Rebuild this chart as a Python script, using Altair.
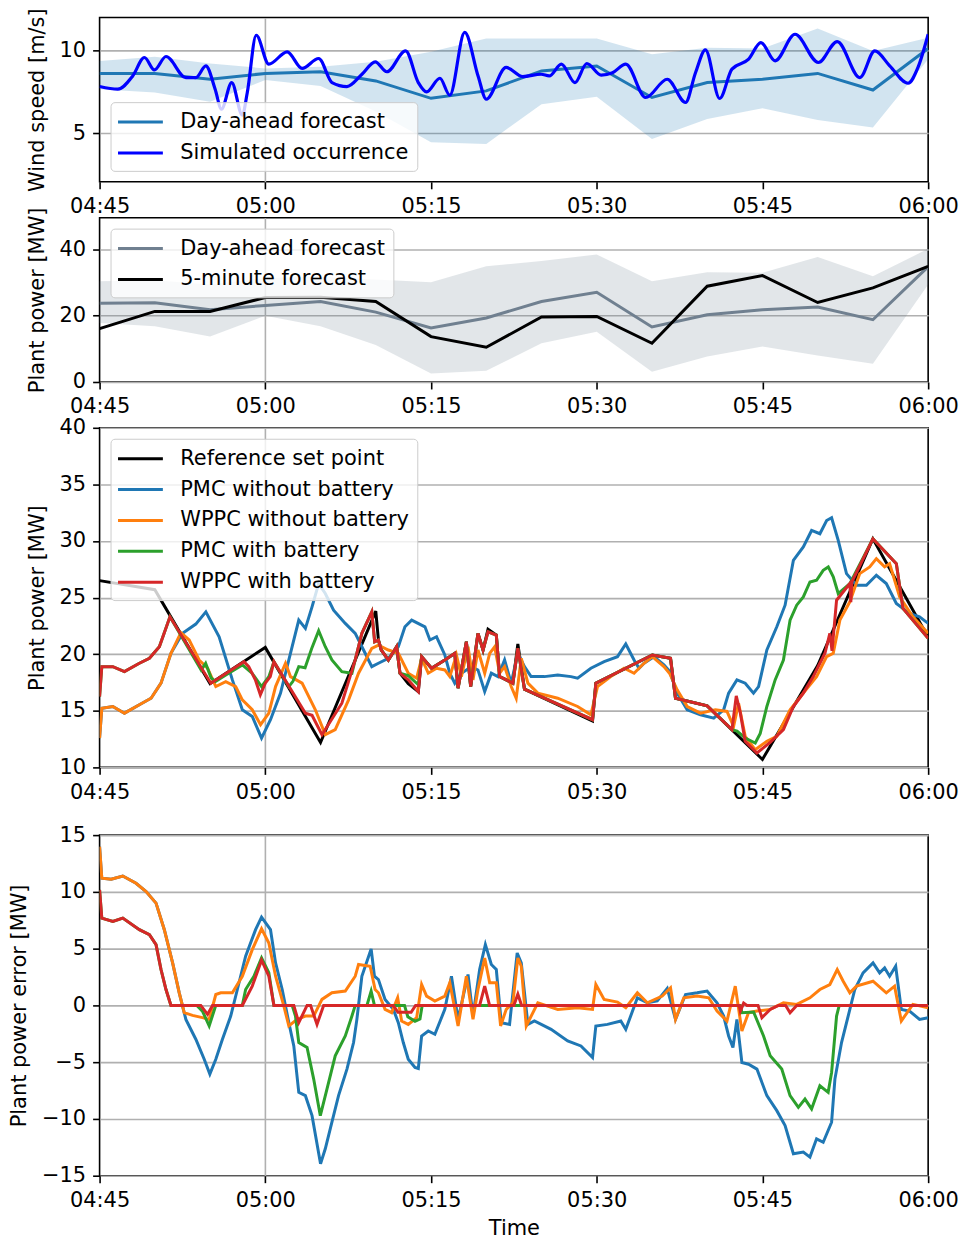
import altair as alt
import pandas as pd

FONT = "DejaVu Sans"

# ---------------- axis ticks ----------------
x_tick_values = [0, 15, 30, 45, 60, 75]          # minutes after 04:45
x_tick_labels = ["04:45", "05:00", "05:15", "05:30", "05:45", "06:00"]

# ---------------- panel 1: wind speed ----------------
t5 = [0, 5, 10, 15, 20, 25, 30, 35, 40, 45, 50, 55, 60, 65, 70, 75]
wind_da = [8.6, 8.6, 8.25, 8.6, 8.7, 8.15, 7.1, 7.55, 8.75, 9.05, 7.15, 8.05, 8.25, 8.6, 7.6, 10.1]
wind_da_low = [7.65, 7.45, 6.9, 8.2, 7.85, 6.3, 4.45, 4.35, 6.75, 7.2, 4.65, 5.85, 6.5, 5.8, 5.35, 9.45]
wind_da_high = [9.35, 9.6, 9.2, 8.9, 9.0, 9.3, 9.9, 10.7, 10.7, 10.7, 9.75, 10.15, 10.1, 11.3, 9.95, 10.75]
wind_sim_t = [0.0, 1.65, 3.0, 4.06, 4.96, 6.01, 7.81, 8.72, 9.62, 10.46, 11.03, 11.96, 12.92, 13.37,
              14.18, 15.32, 16.98, 18.33, 19.83, 21.04, 22.39, 23.75, 24.95, 26.0, 27.7, 28.85, 29.6,
              30.8, 31.7, 33.05, 34.26, 35.0, 36.8, 38.3, 39.97, 40.7, 41.8, 43.03, 44.1, 45.4, 46.43,
              47.63, 49.43, 51.38, 53.04, 53.94, 54.84, 56.13, 57.24, 58.75, 59.86, 61.15, 62.95,
              65.06, 66.77, 68.82, 70.17, 71.52, 73.18, 74.08, 75.0]
wind_sim_v = [7.81, 7.65, 8.45, 9.56, 8.81, 9.62, 8.35, 8.35, 9.06, 7.65, 6.45, 8.05, 6.08, 7.45,
              10.9, 9.16, 9.9, 8.9, 9.5, 8.05, 7.81, 8.55, 9.3, 8.7, 9.96, 8.05, 7.49,
              8.31, 7.29, 11.07, 8.45, 7.05, 8.96, 8.41, 8.55, 8.45, 9.16, 8.05, 9.2, 8.5, 8.64,
              9.16, 7.15, 8.25, 6.85, 8.64, 10.02, 7.09, 8.86, 9.46, 10.46, 9.36, 10.96,
              9.26, 10.52, 8.35, 9.96, 9.06, 8.01, 8.96, 10.96]

# ---------------- panel 2: plant power forecasts ----------------
pow_da = [23.8, 23.9, 21.8, 23.1, 24.3, 21.1, 16.3, 19.3, 24.3, 27.1, 16.6, 20.3, 21.8, 22.6, 18.8, 34.8]
pow_da_low = [17.8, 16.8, 13.7, 20.0, 16.8, 11.2, 2.6, 3.4, 11.7, 15.2, 3.1, 7.7, 10.7, 8.0, 5.5, 29.4]
pow_da_high = [30.4, 30.7, 29.4, 31.4, 31.8, 30.9, 30.1, 34.9, 36.5, 38.5, 30.4, 33.1, 33.0, 37.7, 31.9, 40.2]
pow_5min = [16.1, 21.3, 21.3, 25.5, 25.6, 24.3, 13.7, 10.5, 19.6, 19.8, 11.7, 28.9, 32.1, 24.0, 28.4, 34.9]

# ---------------- panel 3: plant power ----------------
ref_t = [0, 5, 10, 15, 20, 25, 25.24, 25.5, 26.14, 26.89, 27.19, 27.94, 28.85, 29.15, 30.05, 31.25, 32.15,
         32.45, 33.2, 33.59, 34.25, 34.71, 35.16, 35.91, 36.21, 37.41, 37.86, 38.46, 44.62, 44.92, 50.03,
         51.68, 52.13, 55, 60, 65, 70, 75]
ref_v = [26.5, 25.7, 17.4, 20.6, 12.2, 23.8, 21.25, 20.37, 19.49, 20.66, 18.32, 17.4, 16.7, 19.78, 18.76,
         19.49, 20.08, 17.0, 21.1, 17.14, 21.84, 20.37, 22.2, 21.69, 18.02, 17.44, 20.9, 16.91, 14.1, 17.44,
         19.93, 19.64, 16.11, 15.44, 10.7, 19.0, 30.2, 21.5]

pmc_nb_t = [0, 0.2, 1.2, 2.25, 3.6, 4.66, 5.56, 6.46, 7.51, 8.71, 9.62, 10.82, 12.02, 12.92, 13.82, 14.66,
            15.47, 16.38, 17.13, 18.03, 18.63, 19.23, 19.83, 20.43, 21.18, 22.24, 23.14, 24.04, 24.64,
            25.24, 26.14, 27.04, 27.64, 28.25, 29.45, 29.9, 30.5, 31.25, 31.7, 32.15, 32.75, 33.65,
            34.25, 34.86, 35.46, 36.06, 36.66, 37.26, 37.86, 38.46, 39.06, 40.26, 41.47, 42.67, 43.27,
            44.47, 45.67, 46.88, 47.63, 48.38, 48.83, 49.28, 50.18, 51.08, 51.6, 52.28, 53.19, 54.39,
            55.59, 56.49, 56.94, 57.69, 58.44, 59.19, 59.65, 60.4, 61.3, 62.05, 62.8, 63.7, 64.45,
            65.2, 65.81, 66.26, 66.86, 67.61, 68.51, 69.41, 70.31, 71.21, 72.12, 73.32, 74.22, 75]
pmc_nb_v = [12.59, 15.23, 15.38, 14.79, 15.53, 16.11, 17.44, 20.08, 21.84, 22.66, 23.74, 21.54, 17.73, 15.09,
            14.5, 12.59, 14.21, 16.56, 19.49, 23.01, 22.28, 24.18, 26.24, 25.36, 23.89, 22.72, 21.84,
            20.08, 18.9, 19.2, 19.64, 20.66, 22.42, 23.01, 22.42, 21.25, 21.54, 19.93, 18.32, 17.44,
            18.32, 18.9, 18.61, 16.7, 18.32, 18.02, 19.49, 17.44, 20.08, 18.9, 18.02, 18.02, 18.17,
            18.02, 17.88, 18.76, 19.34, 19.78, 20.9, 19.49, 18.76, 19.2, 19.78, 19.05, 18.5, 16.56,
            15.09, 14.65, 14.35, 15.09, 16.56, 17.73, 17.44, 16.56, 17.14, 20.37, 22.42, 24.33, 28.29,
            29.47, 30.93, 30.64, 31.81, 32.05, 30.05, 27.12, 26.09, 26.09, 26.97, 26.24, 24.48, 23.6,
            23.3, 22.72]

wppc_nb_t = [0, 0.2, 1.2, 2.25, 3.6, 4.66, 5.56, 6.46, 7.36, 8.11, 9.01, 9.77, 10.52, 11.42, 12.32, 12.92,
             13.82, 14.57, 15.32, 15.93, 16.83, 17.28, 18.33, 19.53, 20.43, 21.33, 22.54, 23.44, 24.64,
             25.24, 26.14, 27.04, 27.94, 28.7, 29.15, 29.75, 30.5, 31.25, 31.7, 32.3, 32.75, 33.35, 33.8,
             34.25, 34.86, 35.31, 35.76, 36.21, 36.66, 37.26, 37.71, 38.17, 38.77, 39.67, 41.47, 43.27,
             44.47, 45.07, 46.27, 47.48, 48.38, 49.28, 50.03, 51.08, 51.6, 52.28, 53.19, 54.39, 55.74,
             56.79, 57.39, 57.84, 58.44, 59.34, 60.4, 61.3, 62.5, 63.7, 64.9, 65.81, 66.41, 67.01, 67.91,
             68.81, 69.71, 70.31, 71.06, 71.51, 72.42, 73.62, 75]
wppc_nb_v = [12.59, 15.23, 15.38, 14.79, 15.53, 16.11, 17.44, 20.08, 21.9, 21.25, 19.49, 18.76, 17.14, 17.58,
             17.14, 15.97, 15.09, 13.77, 14.79, 17.14, 19.2, 18.02, 17.44, 15.09, 12.89, 13.33, 15.97,
             18.32, 20.52, 20.8, 20.37, 20.08, 18.32, 17.88, 19.64, 18.32, 18.76, 18.61, 18.02, 19.93,
             18.02, 20.66, 17.73, 20.37, 18.32, 20.08, 20.66, 18.32, 18.9, 17.14, 16.11, 19.64, 17.44,
             16.56, 16.11, 15.38, 14.65, 17.14, 18.02, 18.76, 18.32, 19.2, 19.78, 18.9, 18.3, 16.85,
             15.38, 14.79, 15.09, 14.94, 13.62, 15.67, 12.74, 11.57, 12.3, 12.74, 15.09, 16.56, 18.02,
             19.78, 20.08, 23.01, 24.63, 27.12, 27.71, 28.44, 27.71, 28.0, 25.06, 23.3, 21.84]

pmc_b_t = [0, 0.2, 1.2, 2.25, 3.6, 4.51, 5.41, 6.37, 9.2, 9.6, 10.1, 10.5, 11.5, 12.92, 13.82, 14.66, 15.32,
           15.78, 17.13, 17.5, 18.03, 18.6, 19.2, 19.83, 20.43, 21.03, 21.93, 22.84, 23.14, 23.74, 24.64,
           24.9, 25.24, 25.5, 26.14, 26.89, 27.19, 27.94, 28.85, 29.15, 30.05, 31.25, 32.15, 32.45, 33.2,
           33.59, 34.25, 34.71, 35.16, 35.91, 36.21, 37.41, 37.86, 38.46, 44.62, 44.92, 50.03, 51.68,
           52.13, 55.0, 57.24, 57.7, 58.44, 59.35, 59.8, 60.4, 61.15, 61.9, 62.5, 63.1, 63.7, 64.3, 64.9,
           65.5, 65.96, 66.41, 66.86, 67.91, 70.0, 72.12, 72.72, 75]
pmc_b_v = [16.26, 18.9, 18.9, 18.46, 19.2, 19.64, 20.66, 23.3, 18.6, 19.2, 17.9, 17.6, 18.2, 19.05, 18.3, 17.14,
           18.02, 19.34, 17.14, 17.6, 18.9, 18.8, 20.5, 22.07, 20.66, 19.49, 18.46, 18.32, 19.5, 21.84, 23.74,
           21.1, 21.25, 20.37, 19.49, 20.66, 18.32, 18.1, 17.3, 19.78, 18.76, 19.49, 20.08, 17.0, 21.1,
           17.14, 21.84, 20.37, 21.98, 21.69, 18.02, 17.44, 20.52, 16.91, 14.21, 17.44, 19.93, 19.64,
           16.11, 15.44, 13.33, 13.2, 12.6, 12.15, 13.0, 15.38, 17.73, 19.49, 23.0, 24.33, 25.06, 26.38,
           26.53, 27.41, 27.71, 26.83, 25.36, 26.24, 30.2, 28.0, 24.04, 21.4]

wppc_b_t = [0, 0.2, 1.2, 2.25, 3.6, 4.51, 5.41, 6.37, 10.07, 13.07, 13.5, 14.1, 14.55, 15.0, 15.45, 15.78,
            18.63, 19.23, 20.13, 21.93, 23.14, 23.74, 24.64, 24.9, 25.24, 25.5, 26.14, 26.89, 27.19, 27.94,
            28.85, 29.15, 30.05, 31.25, 32.15, 32.45, 33.2, 33.59, 34.25, 34.71, 35.16, 35.91, 36.21,
            37.41, 37.86, 38.46, 44.62, 44.92, 50.03, 51.68, 52.13, 55.0, 57.24, 57.63, 58.0, 58.44, 59.5,
            60.7, 61.9, 62.8, 63.7, 64.6, 65.2, 65.66, 66.1, 66.3, 66.71, 67.91, 68.0, 68.1, 70.0, 72.12,
            72.72, 75]
wppc_b_v = [16.26, 18.9, 18.9, 18.46, 19.2, 19.64, 20.66, 23.3, 17.44, 19.34, 18.9, 17.73, 16.41, 17.44, 18.02,
            19.34, 14.79, 14.6, 12.89, 15.67, 19.49, 21.84, 23.74, 21.1, 21.25, 20.37, 19.49, 20.66, 18.32,
            17.73, 16.7, 19.78, 18.76, 19.49, 20.08, 17.0, 21.1, 17.14, 21.84, 20.37, 21.98, 21.69, 18.02,
            17.44, 20.52, 16.91, 14.21, 17.44, 19.93, 19.64, 16.11, 15.44, 13.33, 16.32, 14.79, 12.3, 11.27,
            12.21, 13.33, 15.38, 16.56, 18.02, 19.2, 20.08, 21.84, 20.3, 24.77, 26.24, 24.6, 26.4, 30.2, 28.0,
            24.04, 21.4]

# ---------------- panel 4: plant power error ----------------
err_pmc_nb_t = [0, 0.2, 1.05, 2.1, 3.3, 4.21, 5.11, 5.86, 6.61, 7.21, 7.81, 8.71, 9.47, 9.98, 10.52, 11.12,
                11.87, 12.47, 13.22, 14.12, 14.66, 15.47, 15.93, 16.53, 17.13, 17.58, 18.03, 18.63, 19.23,
                20.0, 20.43, 21.03, 21.63, 22.39, 22.99, 23.29, 23.74, 24.58, 24.88, 25.24, 25.84, 26.59,
                27.04, 27.49, 27.94, 28.55, 28.85, 29.15, 29.75, 30.35, 31.25, 31.85, 32.45, 33.35, 33.8,
                34.4, 34.92, 35.46, 35.91, 36.36, 37.11, 37.8, 38.17, 38.77, 39.36, 40.87, 42.37, 43.57,
                44.62, 44.92, 45.97, 47.18, 47.63, 48.68, 49.58, 50.48, 51.38, 52.13, 53.04, 54.09, 54.99,
                55.89, 56.49, 56.94, 57.33, 57.69, 58.14, 58.74, 59.5, 60.4, 61.3, 62.05, 62.8, 63.7, 64.3,
                64.9, 65.5, 66.26, 66.56, 67.16, 67.76, 68.36, 69.11, 70.01, 70.61, 71.06, 71.51, 72.06,
                72.57, 73.32, 74.22, 75]
err_pmc_nb_v = [13.98, 11.2, 11.11, 11.4, 10.76, 10.03, 9.01, 6.67, 3.74, 1.11, -1.23, -2.98, -4.74, -6.05,
                -4.74, -2.98, -0.94, 1.4, 4.33, 6.67, 7.78, 6.67, 3.74, 1.4, -1.52, -3.57, -7.66, -7.95,
                -9.71, -13.95, -12.63, -10.29, -7.95, -5.61, -3.27, -1.23, 2.57, 4.97, 2.57, 2.28, 0.53,
                -0.35, -1.52, -3.27, -4.74, -5.47, -5.56, -2.69, -2.25, -2.54, -0.35, 2.57, -1.23, 2.72,
                -0.94, 3.16, 5.35, 3.6, 3.16, -1.52, -1.67, 4.62, 3.74, -1.67, -1.37, -2.11, -3.13, -3.57,
                -4.59, -1.81, -1.67, -1.37, -2.11, 0.67, 0.23, 0.4, 1.5, -1.23, 0.96, 1.11, 1.26, 0.23,
                -0.94, -2.69, -3.71, -1.23, -5.03, -5.18, -5.61, -7.95, -9.27, -10.58, -13.07, -12.92,
                -13.36, -11.75, -12.05, -10.29, -6.49, -3.27, -0.94, 1.4, 2.87, 3.74, 2.87, 3.3, 2.57, 3.45,
                -0.35, -0.5, -1.23, -1.08]

err_wppc_nb_t = [0, 0.2, 1.05, 2.1, 3.3, 4.21, 5.11, 5.86, 6.61, 7.21, 7.66, 8.41, 9.31, 9.92, 10.52, 10.97,
                 12.02, 12.92, 13.82, 14.66, 15.32, 15.93, 16.68, 17.13, 17.88, 18.63, 19.38, 20.13, 21.03,
                 22.24, 23.14, 23.44, 24.49, 24.94, 25.24, 25.84, 26.44, 26.98, 27.34, 27.94, 28.7, 29.15,
                 29.6, 30.35, 31.25, 31.7, 32.45, 33.2, 33.8, 34.25, 34.86, 35.31, 35.91, 36.3, 36.81, 37.41,
                 37.86, 38.17, 38.62, 39.67, 41.47, 43.27, 44.62, 44.92, 45.67, 46.88, 47.63, 48.68, 49.58,
                 50.93, 51.68, 52.13, 52.88, 54.09, 55.14, 55.89, 56.79, 57.54, 58.14, 58.74, 59.5, 60.7,
                 61.9, 63.1, 64.3, 65.2, 66.1, 66.77, 67.31, 67.91, 68.51, 70.01, 71.21, 71.96, 72.57, 73.62,
                 75]
err_wppc_nb_v = [13.98, 11.2, 11.11, 11.4, 10.76, 10.03, 9.01, 6.67, 3.74, 1.11, -0.64, -0.88, -1.08, -1.23,
                 0.96, 1.11, 1.11, 2.57, 4.91, 6.75, 5.5, 2.57, -0.06, -1.81, -1.23, -0.94, -0.94, 0.53, 1.11,
                 1.26, 2.57, 3.6, 3.45, 1.4, 1.11, -0.35, -0.64, 0.67, -1.37, -1.67, -1.08, 1.84, 0.82, 0.38,
                 0.82, 1.99, -1.81, 2.57, -1.23, 1.4, 4.18, 1.99, 1.99, -1.81, -0.35, 0.23, 4.18, 3.45, -1.81,
                 0.23, -0.35, -0.2, -0.35, 1.84, 0.53, 0.29, -0.2, 1.11, 0.23, 0.82, 1.55, -1.23, 0.67, 0.82,
                 0.67, -0.5, -1.37, 1.7, -2.25, -0.64, -0.5, -0.35, 0.23, 0.09, 0.67, 1.4, 1.84, 3.16, 2.13,
                 1.11, 1.7, 2.13, 1.11, 1.7, -1.37, 0.09, -0.2]

err_pmc_b_t = [0, 0.2, 1.2, 2.1, 3.6, 4.51, 5.11, 5.56, 6.01, 6.46, 8.8, 9.31, 9.92, 10.52, 12.92, 13.22,
               13.97, 14.66, 15.32, 15.78, 17.43, 17.73, 18.03, 18.78, 19.38, 19.98, 20.58, 21.33, 22.24,
               22.84, 23.14, 24.2, 24.58, 24.88, 27.6, 27.9, 28.55, 29.0, 29.2, 58.0, 58.14, 59.2, 60.1,
               60.7, 61.75, 62.5, 63.25, 63.85, 64.45, 65.2, 65.95, 66.26, 66.71, 66.95, 75]
err_pmc_b_v = [10.18, 7.69, 7.4, 7.69, 6.67, 6.23, 5.35, 3.16, 1.4, 0, 0, -0.5, -1.81, 0, 0, 1.4, 2.57, 4.18,
               2.87, 0, 0, -0.94, -3.27, -3.71, -6.49, -9.71, -7.37, -4.44, -2.69, -0.94, 0, 0, 1.26, 0, 0,
               -1.0, -1.4, -1.2, 0, 0, -0.64, -0.58, -2.69, -4.44, -5.61, -7.95, -8.98, -8.25, -9.12, -7.08,
               -7.66, -5.91, -0.94, 0, 0]

err_wppc_b_t = [0, 0.2, 1.2, 2.1, 3.6, 4.51, 5.11, 5.56, 6.01, 6.46, 9.16, 9.77, 10.22, 12.92, 13.82, 14.66,
                15.32, 15.78, 17.58, 18.03, 18.78, 19.1, 19.68, 20.28, 26.6, 27.0, 28.2, 28.6, 34.4, 34.86,
                35.3, 37.5, 37.86, 38.2, 57.9, 58.0, 58.3, 58.6, 59.6, 59.95, 60.7, 61.45, 62.1, 62.5, 63.1,
                75]
err_wppc_b_v = [10.18, 7.69, 7.4, 7.69, 6.67, 6.23, 5.35, 3.16, 1.4, 0, 0, -0.79, 0, 0, 1.7, 3.98, 2.57, 0, 0,
                -1.52, 0, 0, -1.67, 0, 0, -0.6, -0.6, 0, 0, 1.7, 0, 0, 1.0, 0, 0, -0.5, 0.2, 0, 0, -1.08,
                -0.35, 0, 0, -0.64, 0, 0]

# ---------------- styling ----------------
C_BLUE = "#1f77b4"
C_ORANGE = "#ff7f0e"
C_GREEN = "#2ca02c"
C_RED = "#d62728"
C_SLATE = "#708090"
W = 832
LW = 3
FS = 21

label_expr = ("[" + ",".join("'%s'" % s for s in x_tick_labels) + "][indexof("
              + str(x_tick_values) + ", datum.value)]")


def xenc(title=None, min_extent=None):
    kw = dict(values=x_tick_values, labelExpr=label_expr, grid=True,
              gridOpacity={"condition": {"test": "datum.value === 15", "value": 1}, "value": 0},
              labelFlush=False, labelOverlap=False, title=title)
    if min_extent is not None:
        kw["minExtent"] = min_extent
    return alt.X("t:Q", scale=alt.Scale(domain=[0, 75], nice=False, zero=False), axis=alt.Axis(**kw))


def yenc(field, domain, ticks, title):
    return alt.Y(field, scale=alt.Scale(domain=domain, nice=False, zero=False),
                 axis=alt.Axis(values=ticks, title=title, grid=True, labelOverlap=False))


def legend(orient):
    # long horizontal line symbol (handle) drawn from a small symbol size
    return alt.Legend(title=None, orient=orient, offset=11, fillColor="rgba(255,255,255,0.8)",
                      strokeColor="#cccccc", cornerRadius=4, padding=8, symbolType="M-1.19,0H3.1",
                      symbolSize=441, symbolStrokeWidth=3, labelOffset=38, rowPadding=9,
                      labelLimit=400, labelFontSize=FS, labelFont=FONT, labelColor="black")


def line_layer(t, v, name, ydom, yticks, ytitle, cscale, leg, width=LW, interp="linear"):
    df = pd.DataFrame({"t": t, "v": v, "series": name})
    return alt.Chart(df).mark_line(strokeWidth=width, interpolate=interp, clip=True).encode(
        x=xenc(), y=yenc("v:Q", ydom, yticks, ytitle),
        color=alt.Color("series:N", scale=cscale, legend=leg))


# ---- panel 1
d1 = [2.07, 11.97]
tk1 = [5, 10]
yt1 = "Wind speed [m/s]"
cs1 = alt.Scale(domain=["Day-ahead forecast", "Simulated occurrence"], range=[C_BLUE, "#0000ff"])
lg1 = legend("bottom-left")
band1 = alt.Chart(pd.DataFrame({"t": t5, "lo": wind_da_low, "hi": wind_da_high})).mark_area(
    color=C_BLUE, opacity=0.2).encode(x=xenc(min_extent=34), y=yenc("lo:Q", d1, tk1, yt1), y2="hi:Q")
p1 = alt.layer(
    band1,
    line_layer(t5, wind_da, "Day-ahead forecast", d1, tk1, yt1, cs1, lg1),
    line_layer(wind_sim_t, wind_sim_v, "Simulated occurrence", d1, tk1, yt1, cs1, lg1, width=3.2,
               interp="monotone"),
).properties(width=W, height=165)

# ---- panel 2
d2 = [0, 49.6]
tk2 = [0, 20, 40]
yt2 = "Plant power [MW]"
cs2 = alt.Scale(domain=["Day-ahead forecast", "5-minute forecast"], range=[C_SLATE, "black"])
lg2 = legend("top-left")
band2 = alt.Chart(pd.DataFrame({"t": t5, "lo": pow_da_low, "hi": pow_da_high})).mark_area(
    color=C_SLATE, opacity=0.2).encode(x=xenc(min_extent=45), y=yenc("lo:Q", d2, tk2, yt2), y2="hi:Q")
p2 = alt.layer(
    band2,
    line_layer(t5, pow_da, "Day-ahead forecast", d2, tk2, yt2, cs2, lg2),
    line_layer(t5, pow_5min, "5-minute forecast", d2, tk2, yt2, cs2, lg2),
).properties(width=W, height=165)

# ---- panel 3
d3 = [10, 40]
tk3 = [10, 15, 20, 25, 30, 35, 40]
yt3 = "Plant power [MW]"
names3 = ["Reference set point", "PMC without battery", "WPPC without battery", "PMC with battery",
          "WPPC with battery"]
cs3 = alt.Scale(domain=names3, range=["black", C_BLUE, C_ORANGE, C_GREEN, C_RED])
lg3 = legend("top-left")
base3 = alt.Chart(pd.DataFrame({"t": [0, 75], "v": [10, 10]})).mark_line(opacity=0).encode(
    x=xenc(min_extent=67), y=yenc("v:Q", d3, tk3, yt3))
p3 = alt.layer(
    base3,
    line_layer(ref_t, ref_v, names3[0], d3, tk3, yt3, cs3, lg3),
    line_layer(pmc_nb_t, pmc_nb_v, names3[1], d3, tk3, yt3, cs3, lg3),
    line_layer(wppc_nb_t, wppc_nb_v, names3[2], d3, tk3, yt3, cs3, lg3),
    line_layer(pmc_b_t, pmc_b_v, names3[3], d3, tk3, yt3, cs3, lg3),
    line_layer(wppc_b_t, wppc_b_v, names3[4], d3, tk3, yt3, cs3, lg3),
).properties(width=W, height=341)

# ---- panel 4
d4 = [-15, 15]
tk4 = [-15, -10, -5, 0, 5, 10, 15]
yt4 = "Plant power error [MW]"


def err_layer(t, v, color):
    df = pd.DataFrame({"t": t, "v": v})
    return alt.Chart(df).mark_line(strokeWidth=LW, color=color, clip=True).encode(
        x=xenc(title="Time"), y=yenc("v:Q", d4, tk4, yt4))


p4 = alt.layer(
    err_layer(err_pmc_nb_t, err_pmc_nb_v, C_BLUE),
    err_layer(err_wppc_nb_t, err_wppc_nb_v, C_ORANGE),
    err_layer(err_pmc_b_t, err_pmc_b_v, C_GREEN),
    err_layer(err_wppc_b_t, err_wppc_b_v, C_RED),
).properties(width=W, height=342)

chart = alt.vconcat(p1, p2, p3, p4, spacing=-15).resolve_scale(color="independent").resolve_legend(
    color="independent").properties(
    padding={"left": 7, "top": 4, "right": 5, "bottom": 0}
).configure(font=FONT).configure_view(
    stroke="black", strokeWidth=1.6
).configure_axis(
    labelFont=FONT, labelFontSize=FS, labelColor="black", titleFont=FONT, titleFontSize=FS,
    titleFontWeight="normal", titleColor="black", tickColor="black", tickSize=7, tickWidth=1.6,
    domain=False, gridColor="#b0b0b0", gridWidth=1.6, labelPadding=7, titlePadding=12
).configure_axisX(titlePadding=7)

chart.save("out.html", embed_options={"renderer": "svg", "actions": False})
